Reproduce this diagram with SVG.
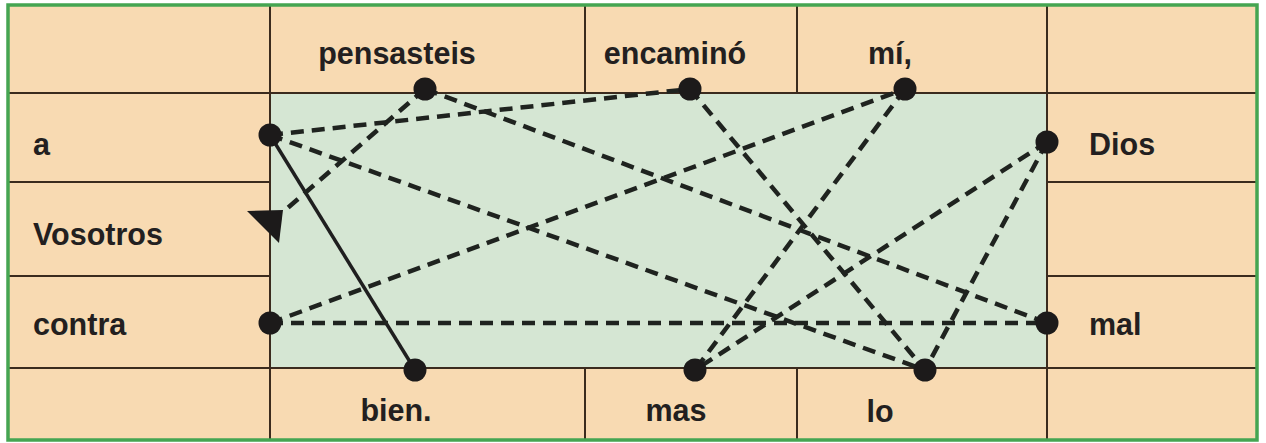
<svg xmlns="http://www.w3.org/2000/svg" width="1266" height="443" viewBox="0 0 1266 443">
<style>
.grid{stroke:#3b2b1e;stroke-width:2;fill:none}
.lbl{font-family:"Liberation Sans",Arial,sans-serif;font-size:30.5px;font-weight:bold;fill:#231f20}
.dash{stroke:#1f231f;stroke-width:4.5;stroke-dasharray:13 8;fill:none}
.solid{stroke:#1f1f1f;stroke-width:3.5;fill:none}
.dot{fill:#1c1a1a}
</style>
<rect x="0" y="0" width="1266" height="443" fill="#ffffff"/>
<rect x="8" y="5" width="1249" height="435" fill="#f8dab2"/>
<rect x="270" y="93" width="777" height="275" fill="#d5e6d3"/>
<g id="grid">
<line class="grid" x1="8" y1="93" x2="1257" y2="93"/>
<line class="grid" x1="8" y1="368" x2="1257" y2="368"/>
<line class="grid" x1="8" y1="182" x2="270" y2="182"/>
<line class="grid" x1="8" y1="276" x2="270" y2="276"/>
<line class="grid" x1="1047" y1="182" x2="1257" y2="182"/>
<line class="grid" x1="1047" y1="276" x2="1257" y2="276"/>
<line class="grid" x1="270" y1="5" x2="270" y2="440"/>
<line class="grid" x1="1047" y1="5" x2="1047" y2="440"/>
<line class="grid" x1="585" y1="5" x2="585" y2="93"/>
<line class="grid" x1="797" y1="5" x2="797" y2="93"/>
<line class="grid" x1="585" y1="368" x2="585" y2="440"/>
<line class="grid" x1="797" y1="368" x2="797" y2="440"/>
</g>
<rect x="8" y="5" width="1249" height="435" fill="none" stroke="#45a552" stroke-width="3.5"/>
<g id="connectors">
<line class="solid" x1="270" y1="135" x2="415" y2="370"/>
<line class="dash" x1="425" y1="89" x2="283" y2="212"/>
<polygon points="247,211 283,210 279,243" fill="#1c1a1a"/>
<line class="dash" x1="270" y1="135" x2="690" y2="89"/>
<line class="dash" x1="270" y1="135" x2="925" y2="370"/>
<line class="dash" x1="425" y1="89" x2="1047" y2="323"/>
<line class="dash" x1="270" y1="323" x2="905" y2="89"/>
<line class="dash" x1="270" y1="323" x2="1047" y2="323"/>
<line class="dash" x1="690" y1="89" x2="925" y2="370"/>
<line class="dash" x1="905" y1="89" x2="695" y2="370"/>
<line class="dash" x1="1047" y1="142" x2="695" y2="370"/>
<line class="dash" x1="1047" y1="142" x2="925" y2="370"/>
</g>
<g id="node-pensasteis"><circle class="dot" cx="425" cy="89" r="11.5"/><text class="lbl" x="397" y="64" text-anchor="middle">pensasteis</text></g>
<g id="node-encamino"><circle class="dot" cx="690" cy="89" r="11.5"/><text class="lbl" x="675" y="64" text-anchor="middle">encaminó</text></g>
<g id="node-mi"><circle class="dot" cx="905" cy="89" r="11.5"/><text class="lbl" x="890" y="64" text-anchor="middle">mí,</text></g>
<g id="node-a"><circle class="dot" cx="270" cy="135" r="11.5"/><text class="lbl" x="33" y="155">a</text></g>
<g id="node-vosotros"><text class="lbl" x="33" y="245">Vosotros</text></g>
<g id="node-contra"><circle class="dot" cx="270" cy="323" r="11.5"/><text class="lbl" x="33" y="335">contra</text></g>
<g id="node-dios"><circle class="dot" cx="1047" cy="142" r="11.5"/><text class="lbl" x="1089" y="155">Dios</text></g>
<g id="node-mal"><circle class="dot" cx="1047" cy="323" r="11.5"/><text class="lbl" x="1089" y="335">mal</text></g>
<g id="node-bien"><circle class="dot" cx="415" cy="370" r="11.5"/><text class="lbl" x="396" y="421" text-anchor="middle">bien.</text></g>
<g id="node-mas"><circle class="dot" cx="695" cy="370" r="11.5"/><text class="lbl" x="676" y="421" text-anchor="middle">mas</text></g>
<g id="node-lo"><circle class="dot" cx="925" cy="370" r="11.5"/><text class="lbl" x="880" y="422" text-anchor="middle">lo</text></g>
</svg>
